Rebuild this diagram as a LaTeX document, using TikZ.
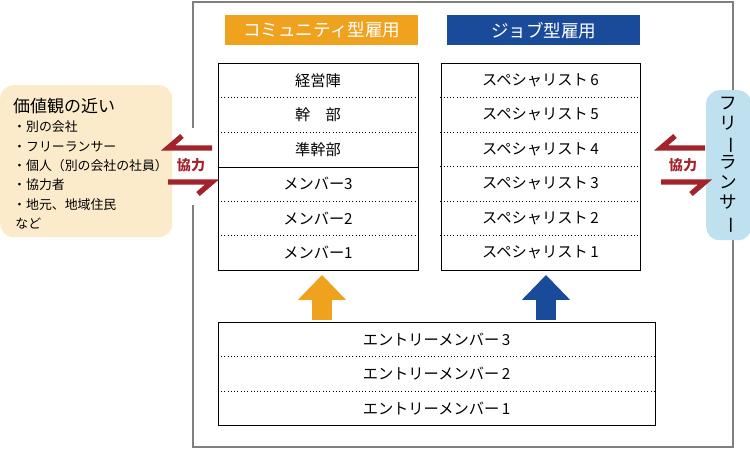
\documentclass[tikz,border=0pt]{standalone}
\usepackage{fontspec}
\setmainfont{Noto Sans CJK JP}
\usetikzlibrary{positioning,arrows.meta}
\definecolor{orangehead}{HTML}{EFA21E}
\definecolor{bluehead}{HTML}{1A4B9B}
\definecolor{cream}{HTML}{FBEBCB}
\definecolor{skyblue}{HTML}{BFE0EE}
\definecolor{darkred}{HTML}{A3232B}
\newcommand{\rowfont}{\fontsize{13}{15}\selectfont}
\newcommand{\vbar}{\rotatebox[origin=c]{-90}{ー}}
\tikzset{
  head/.style={minimum width=5.79cm,minimum height=0.9cm,text=white,font=\fontsize{15}{17}\selectfont,inner sep=0pt},
  row/.style={minimum width=6cm,minimum height=1.035cm,inner sep=0pt,font=\rowfont},
  wide/.style={minimum width=13.11cm,minimum height=1.035cm,inner sep=0pt,font=\rowfont},
  half/.style={line width=4.5pt,draw=darkred},
  uparrow/.style={-{Triangle[length=0.75cm,width=1.4cm]},line width=0.6cm}
}
\begin{document}
\begin{tikzpicture}[x=0.03cm,y=-0.03cm]
\useasboundingbox (0,0) rectangle (750,449);
% outer frame
\draw[gray,line width=1pt] (193,128) -- (193,2) -- (733,2) -- (733,447) -- (193,447) -- (193,205);
% headers
\node[head,fill=orangehead,anchor=north west] (commhead) at (225,15) {コミュニティ型雇用};
\node[head,fill=bluehead,anchor=north west] (jobhead) at (447,15) {ジョブ型雇用};
% community table
\draw (218,63) rectangle (418,270);
\foreach \t [count=\i] in {経営陣,幹\quad 部,準幹部,メンバー3,メンバー2,メンバー1}
  \node[row] (c\i) at (318,{63+34.5*(\i-0.5)}) {\t};
\foreach \i in {1,2,4,5}
  \draw[dotted,thick] (c\i.south west) -- (c\i.south east);
\draw (c3.south west) -- (c3.south east);
% job table
\draw (441,63) rectangle (640,270);
\foreach \n [count=\i] in {6,5,4,3,2,1}
  \node[row] (j\i) at (540.5,{63+34.5*(\i-0.5)}) {スペシャリスト\,\n};
\foreach \i in {1,...,5}
  \draw[dotted,thick] (j\i.south west) -- (j\i.south east);
% entry table
\draw (218,322) rectangle (655,425);
\foreach \n [count=\i] in {3,2,1}
  \node[wide] (e\i) at (436.5,{322+34.5*(\i-0.5)}) {エントリーメンバー\,\n};
\foreach \i in {1,2}
  \draw[dotted,thick] (e\i.south west) -- (e\i.south east);
% up arrows
\coordinate (ao) at (322,320);
\coordinate (ab) at (546,320);
\draw[uparrow,orangehead] (ao) -- ([yshift=-4pt]c6.south -| ao);
\draw[uparrow,bluehead] (ab) -- ([yshift=-4pt]j6.south -| ab);
% left partner box
\node[fill=cream,rounded corners=0.4cm,minimum width=5.16cm,minimum height=4.56cm,anchor=north west] (partners) at (0,85) {};
\node[anchor=north west,align=left,font=\fontsize{11}{16.5}\selectfont,inner sep=0pt] (plist) at (13,98)
  {{\fontsize{14.5}{17}\selectfont 価値観の近い}\\
   ・別の会社\\ ・フリーランサー\\ ・個人（別の会社の社員）\\ ・協力者\\ ・地元、地域住民\\ \,など};
% right freelancer box
\node[fill=skyblue,rounded corners=0.4cm,minimum width=1.35cm,minimum height=4.5cm,anchor=north west] (free) at (706,90) {};
\node[font=\fontsize{15}{17}\selectfont,align=center,inner sep=0pt] (freetext) at (free.center)
  {フ\\リ\\\vbar\\ラ\\ン\\サ\\\vbar};
% cooperation arrows, left
\coordinate (l1) at (212,148); \coordinate (l2) at (168,148);
\coordinate (l3) at (168,182); \coordinate (l4) at (212,182);
\draw[half,line join=miter] (l1) -- (l2) -- ++(14,-12);
\draw[half,line join=miter] (l3) -- (l4) -- ++(-14,12);
\node[text=darkred,font=\fontsize{12}{14}\bfseries\selectfont] (coopl) at (191,165) {協力};
% cooperation arrows, right
\coordinate (r1) at (705,148); \coordinate (r2) at (661,148);
\coordinate (r3) at (661,182); \coordinate (r4) at (705,182);
\draw[half,line join=miter] (r1) -- (r2) -- ++(14,-12);
\draw[half,line join=miter] (r3) -- (r4) -- ++(-14,12);
\node[text=darkred,font=\fontsize{12}{14}\bfseries\selectfont] (coopr) at (683,165) {協力};
\end{tikzpicture}
\end{document}
